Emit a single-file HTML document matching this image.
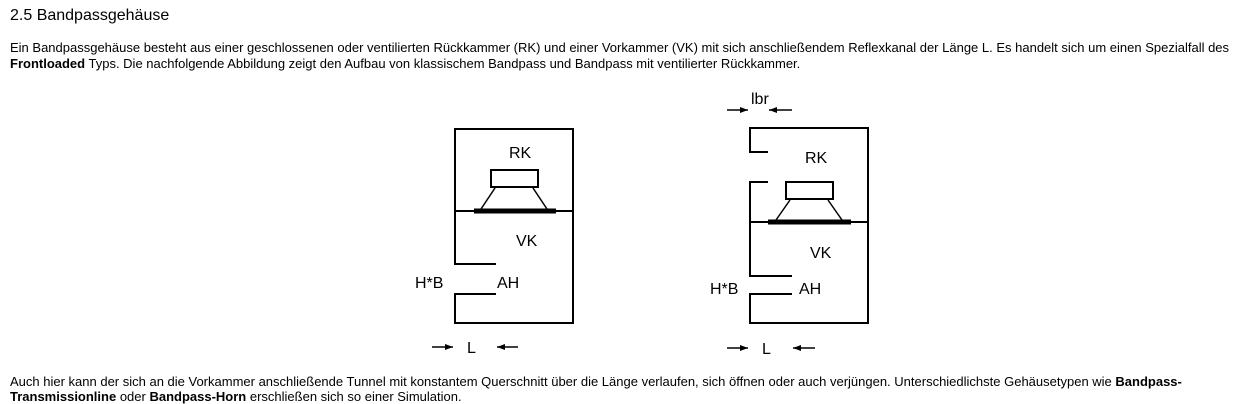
<!DOCTYPE html>
<html><head><meta charset="utf-8"><style>
body{margin:0;width:1254px;height:402px;background:#fff;position:relative;overflow:hidden;font-family:"Liberation Sans",Arial,sans-serif;color:#000}
.t{position:absolute;white-space:nowrap;font-size:13px;line-height:15px}
svg{position:absolute;left:0;top:0}
svg text{font-family:"Liberation Sans",Arial,sans-serif;font-size:16px}
</style></head><body>
<div class="t" style="left:10px;top:6px;font-size:16px;line-height:19px">2.5 Bandpassgehäuse</div>
<div class="t" style="left:10px;top:40px">Ein Bandpassgehäuse besteht aus einer geschlossenen oder ventilierten Rückkammer (RK) und einer Vorkammer (VK) mit sich anschließendem Reflexkanal der Länge L. Es handelt sich um einen Spezialfall des</div>
<div class="t" style="left:10px;top:56px"><b>Frontloaded</b> Typs. Die nachfolgende Abbildung zeigt den Aufbau von klassischem Bandpass und Bandpass mit ventilierter Rückkammer.</div>
<div class="t" style="left:10px;top:374px">Auch hier kann der sich an die Vorkammer anschließende Tunnel mit konstantem Querschnitt über die Länge verlaufen, sich öffnen oder auch verjüngen. Unterschiedlichste Gehäusetypen wie <b>Bandpass-</b></div>
<div class="t" style="left:10px;top:389px"><b>Transmissionline</b> oder <b>Bandpass-Horn</b> erschließen sich so einer Simulation.</div>
<svg width="1254" height="402" stroke="#000" fill="none">
<defs><marker id="a" markerWidth="8" markerHeight="6" refX="8" refY="3" orient="auto" markerUnits="userSpaceOnUse"><path d="M0,0 L8,3 L0,6z" fill="#000" stroke="none"/></marker></defs>
<g stroke-width="2">
<path d="M496,264 H455 V129 H573 V323 H455 V294 H496"/>
<line x1="455" y1="211" x2="573" y2="211"/>
<rect x="491" y="170" width="47" height="17"/>
</g>
<line x1="474" y1="211" x2="556" y2="211" stroke-width="5"/>
<line x1="495" y1="188" x2="481" y2="209" stroke-width="1.5"/>
<line x1="533" y1="188" x2="547" y2="209" stroke-width="1.5"/>
<line x1="432" y1="347" x2="453" y2="347" stroke-width="1.5" marker-end="url(#a)"/>
<line x1="518" y1="347" x2="497" y2="347" stroke-width="1.5" marker-end="url(#a)"/>
<g stroke-width="2">
<path d="M768,152 H750 V128 H868 V323 H750 V294 H792"/>
<path d="M768,182 H750 V276 H792"/>
<line x1="750" y1="222" x2="868" y2="222"/>
<rect x="786" y="182" width="47" height="17"/>
</g>
<line x1="768" y1="222" x2="851" y2="222" stroke-width="5"/>
<line x1="790" y1="200" x2="776" y2="220" stroke-width="1.5"/>
<line x1="828" y1="200" x2="842" y2="220" stroke-width="1.5"/>
<line x1="727" y1="110" x2="748" y2="110" stroke-width="1.5" marker-end="url(#a)"/>
<line x1="792" y1="110" x2="769" y2="110" stroke-width="1.5" marker-end="url(#a)"/>
<line x1="727" y1="348" x2="748" y2="348" stroke-width="1.5" marker-end="url(#a)"/>
<line x1="815" y1="348" x2="793" y2="348" stroke-width="1.5" marker-end="url(#a)"/>
<g fill="#000" stroke="none">
<text x="509" y="158">RK</text>
<text x="516" y="246">VK</text>
<text x="415" y="288">H*B</text>
<text x="497" y="288">AH</text>
<text x="467" y="353">L</text>
<text x="805" y="163">RK</text>
<text x="810" y="258">VK</text>
<text x="710" y="294">H*B</text>
<text x="799" y="294">AH</text>
<text x="762" y="354">L</text>
<text x="751" y="104">lbr</text>
</g>
</svg>
</body></html>
